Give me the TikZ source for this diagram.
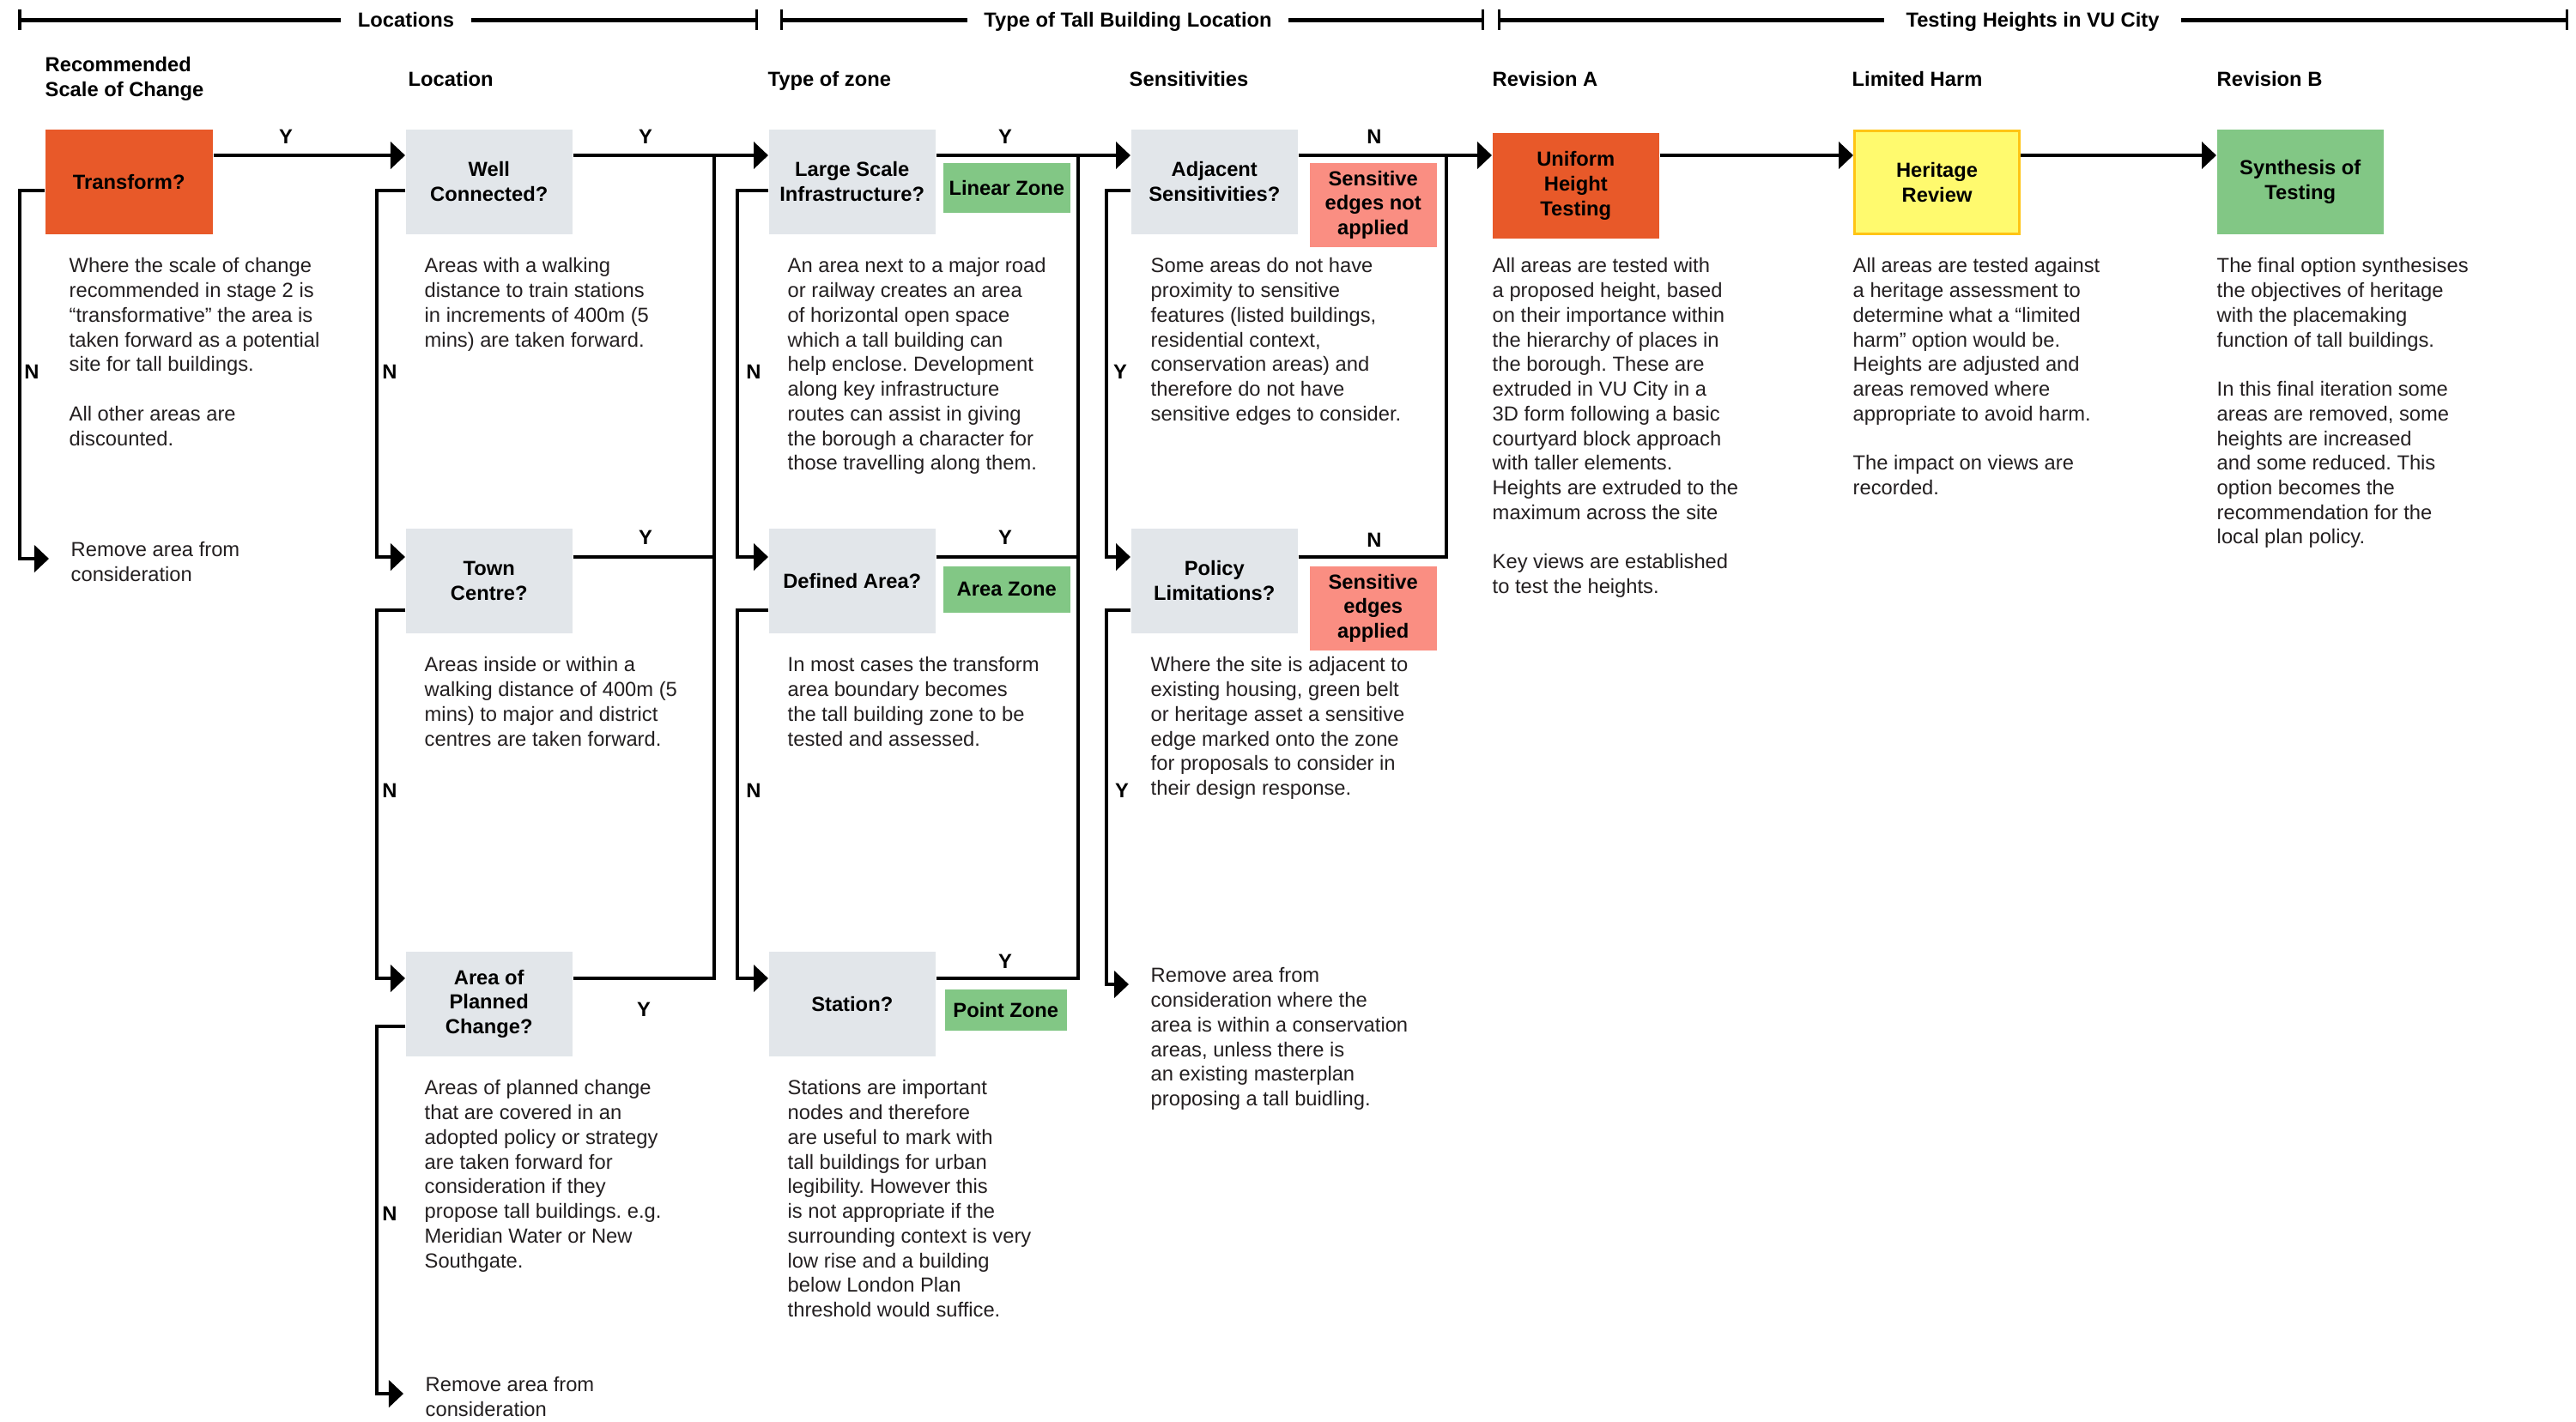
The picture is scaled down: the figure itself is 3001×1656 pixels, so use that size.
\documentclass[tikz,border=0pt]{standalone}
\usepackage{fontspec}
\setmainfont{Liberation Sans}
\usepackage{xcolor}
\usetikzlibrary{arrows.meta}
\definecolor{qgrey}{RGB}{226,230,234}
\definecolor{hotorange}{RGB}{232,89,41}
\definecolor{zonegreen}{RGB}{130,199,133}
\definecolor{edgepink}{RGB}{250,142,130}
\definecolor{heritageyellow}{RGB}{255,250,110}
\definecolor{heritageedge}{RGB}{255,196,20}
\definecolor{bodytext}{RGB}{35,31,32}
\newcommand{\txtfont}{\fontsize{6.75}{8.17}\selectfont}
\frenchspacing

\begin{document}
\begin{tikzpicture}[x=0.01cm, y=-0.01cm,
  font=\txtfont,
  qbox/.style={fill=qgrey, anchor=north west, inner sep=0, minimum width=1.94cm, minimum height=1.22cm, align=center, font=\txtfont\bfseries},
  tag/.style={fill=zonegreen, anchor=north west, inner sep=0, minimum width=1.48cm, align=center, font=\txtfont\bfseries},
  desc/.style={anchor=north west, align=left, inner sep=0, text=bodytext, execute at begin node=\strut},
  rm/.style={desc, inner xsep=0.25cm},
  head/.style={desc, text=black, font=\txtfont\bfseries},
  yn/.style={inner sep=0, font=\txtfont\bfseries},
  brk/.style={line width=0.05cm},
  tick/.style={line width=0.03cm},
  flow/.style={line width=0.04cm},
  arr/.style={flow, -{Triangle[length=0.17cm, width=0.31cm]}}
]
\useasboundingbox (0,0) rectangle (3001,1656);

% stage brackets
\coordinate (brkY) at (0,23);
\node[anchor=base, inner sep=0, inner xsep=0.19cm, font=\txtfont\bfseries] (lblLoc) at (473,31) {Locations};
\node[anchor=base, inner sep=0, inner xsep=0.19cm, font=\txtfont\bfseries] (lblType) at (1314,31) {Type of Tall Building Location};
\node[anchor=base, inner sep=0, inner xsep=0.25cm, font=\txtfont\bfseries] (lblTest) at (2368,31) {Testing Heights in VU City};
\draw[brk] (23,23) -- (lblLoc.west |- brkY);
\draw[brk] (lblLoc.east |- brkY) -- (881,23);
\draw[brk] (910,23) -- (lblType.west |- brkY);
\draw[brk] (lblType.east |- brkY) -- (1727,23);
\draw[brk] (1746,23) -- (lblTest.west |- brkY);
\draw[brk] (lblTest.east |- brkY) -- (2990,23);
\foreach \tx in {23,881,910,1727,1746,2990}
  \draw[tick] (\tx,11) -- (\tx,35);

% column headings
\node[head] (hScale) at (52,66) {Recommended\\Scale of Change};
\node[head] (hLoc) at (475,80) {Location};
\node[head] (hZone) at (894,80) {Type of zone};
\node[head] (hSens) at (1315,80) {Sensitivities};
\node[head] (hRevA) at (1738,80) {Revision A};
\node[head] (hHarm) at (2157,80) {Limited Harm};
\node[head] (hRevB) at (2582,80) {Revision B};

% rows and spines
\coordinate (rowA) at (0,181);
\coordinate (stubA) at (0,222);
\coordinate (rowB) at (0,649);
\coordinate (stubB) at (0,711);
\coordinate (rowC) at (0,1140);
\coordinate (stubC) at (0,1196);
\coordinate (spT) at (23,0);
\coordinate (spW) at (439,0);
\coordinate (spZ) at (859,0);
\coordinate (spS) at (1289,0);
\coordinate (jW) at (832,0);
\coordinate (jZ) at (1256,0);
\coordinate (jS) at (1685,0);

% question boxes
\node[qbox, fill=hotorange, minimum width=1.95cm] (transform) at (52,150) {Transform?};
\node[qbox] (well) at (472,150) {Well\\Connected?};
\node[qbox] (town) at (472,615) {Town\\Centre?};
\node[qbox] (apc) at (472,1108) {Area of\\Planned\\Change?};
\node[qbox] (large) at (895,150) {Large Scale\\Infrastructure?};
\node[qbox] (defined) at (895,615) {Defined Area?};
\node[qbox] (station) at (895,1108) {Station?};
\node[qbox] (adj) at (1317,150) {Adjacent\\Sensitivities?};
\node[qbox] (policy) at (1317,615) {Policy\\Limitations?};
\node[qbox, fill=hotorange, minimum height=1.23cm] (uniform) at (1738,154) {Uniform\\Height\\Testing};
\node[qbox, fill=heritageyellow, draw=heritageedge, line width=0.03cm, minimum width=1.92cm, minimum height=1.2cm] (heritage) at (2159,151) {Heritage\\Review};
\node[qbox, fill=zonegreen] (synth) at (2582,150) {Synthesis of\\Testing};

% outcome tags
\node[tag, minimum height=0.58cm] (linear) at (1098,189) {Linear Zone};
\node[tag, minimum height=0.54cm] (areaZ) at (1098,659) {Area Zone};
\node[tag, minimum width=1.42cm, minimum height=0.48cm] (pointZ) at (1100,1152) {Point Zone};
\node[tag, fill=edgepink, minimum height=0.98cm] (edgeNot) at (1525,189) {Sensitive\\edges not\\applied};
\node[tag, fill=edgepink, minimum height=0.98cm] (edgeYes) at (1525,659) {Sensitive\\edges\\applied};

% descriptions
\node[desc] (dTransform) at (80,300) {Where the scale of change\\recommended in stage 2 is\\“transformative” the area is\\taken forward as a potential\\site for tall buildings.\\[8.17pt]All other areas are\\discounted.};
\node[desc] (dWell) at (494,300) {Areas with a walking\\distance to train stations\\in increments of 400m (5\\mins) are taken forward.};
\node[desc] (dTown) at (494,765) {Areas inside or within a\\walking distance of 400m (5\\mins) to major and district\\centres are taken forward.};
\node[desc] (dApc) at (494,1258) {Areas of planned change\\that are covered in an\\adopted policy or strategy\\are taken forward for\\consideration if they\\propose tall buildings. e.g.\\Meridian Water or New\\Southgate.};
\node[desc] (dLarge) at (917,300) {An area next to a major road\\or railway creates an area\\of horizontal open space\\which a tall building can\\help enclose. Development\\along key infrastructure\\routes can assist in giving\\the borough a character for\\those travelling along them.};
\node[desc] (dDefined) at (917,765) {In most cases the transform\\area boundary becomes\\the tall building zone to be\\tested and assessed.};
\node[desc] (dStation) at (917,1258) {Stations are important\\nodes and therefore\\are useful to mark with\\tall buildings for urban\\legibility. However this\\is not appropriate if the\\surrounding context is very\\low rise and a building\\below London Plan\\threshold would suffice.};
\node[desc] (dAdj) at (1340,300) {Some areas do not have\\proximity to sensitive\\features (listed buildings,\\residential context,\\conservation areas) and\\therefore do not have\\sensitive edges to consider.};
\node[desc] (dPolicy) at (1340,765) {Where the site is adjacent to\\existing housing, green belt\\or heritage asset a sensitive\\edge marked onto the zone\\for proposals to consider in\\their design response.};
\node[desc] (dUniform) at (1738,300) {All areas are tested with\\a proposed height, based\\on their importance within\\the hierarchy of places in\\the borough. These are\\extruded in VU City in a\\3D form following a basic\\courtyard block approach\\with taller elements.\\Heights are extruded to the\\maximum across the site\\[8.17pt]Key views are established\\to test the heights.};
\node[desc] (dHeritage) at (2158,300) {All areas are tested against\\a heritage assessment to\\determine what a “limited\\harm” option would be.\\Heights are adjusted and\\areas removed where\\appropriate to avoid harm.\\[8.17pt]The impact on views are\\recorded.};
\node[desc] (dSynth) at (2582,300) {The final option synthesises\\the objectives of heritage\\with the placemaking\\function of tall buildings.\\[8.17pt]In this final iteration some\\areas are removed, some\\heights are increased\\and some reduced. This\\option becomes the\\recommendation for the\\local plan policy.};

% removal outcomes
\node[rm] (rmT) at (57,631) {Remove area from\\consideration};
\node[rm] (rmW) at (470,1604) {Remove area from\\consideration};
\node[rm] (rmS) at (1315,1127) {Remove area from\\consideration where the\\area is within a conservation\\areas, unless there is\\an existing masterplan\\proposing a tall buidling.};
\coordinate (rmTin) at ([yshift=-0.2cm]rmT.north west);
\coordinate (rmWin) at ([yshift=-0.2cm]rmW.north west);
\coordinate (rmSin) at ([yshift=-0.2cm]rmS.north west);

% main line
\draw[arr] (transform.east |- rowA) -- (well.west |- rowA);
\draw[arr] (well.east |- rowA) -- (large.west |- rowA);
\draw[arr] (large.east |- rowA) -- (adj.west |- rowA);
\draw[arr] (adj.east |- rowA) -- (uniform.west |- rowA);
\draw[arr] (uniform.east |- rowA) -- (heritage.west |- rowA);
\draw[arr] (heritage.east |- rowA) -- (synth.west |- rowA);

% yes / no returns to the main line
\draw[flow] (town.east |- rowB) -- (jW |- rowB);
\draw[flow] (apc.east |- rowC) -| (jW |- rowA);
\draw[flow] (defined.east |- rowB) -- (jZ |- rowB);
\draw[flow] (station.east |- rowC) -| (jZ |- rowA);
\draw[flow] (policy.east |- rowB) -| (jS |- rowA);

% branches down the left
\draw[arr] (transform.west |- stubA) -| (spT |- rmTin) -- (rmTin);
\draw[arr] (well.west |- stubA) -| (spW |- rowB) -- (town.west |- rowB);
\draw[arr] (town.west |- stubB) -| (spW |- rowC) -- (apc.west |- rowC);
\draw[arr] (apc.west |- stubC) -| (spW |- rmWin) -- (rmWin);
\draw[arr] (large.west |- stubA) -| (spZ |- rowB) -- (defined.west |- rowB);
\draw[arr] (defined.west |- stubB) -| (spZ |- rowC) -- (station.west |- rowC);
\draw[arr] (adj.west |- stubA) -| (spS |- rowB) -- (policy.west |- rowB);
\draw[arr] (policy.west |- stubB) -| (spS |- rmSin) -- (rmSin);

% Y / N labels
\node[yn] (yA1) at (333,159) {Y};
\node[yn] (yA2) at (752,159) {Y};
\node[yn] (yA3) at (1171,159) {Y};
\node[yn] (nA4) at (1601,159) {N};
\node[yn] (yB2) at (752,626) {Y};
\node[yn] (yB3) at (1171,626) {Y};
\node[yn] (nB4) at (1601,629) {N};
\node[yn] (yC2) at (750,1176) {Y};
\node[yn] (yC3) at (1171,1120) {Y};
\node[yn] (nT) at (37,433) {N};
\node[yn] (nW1) at (454,433) {N};
\node[yn] (nW2) at (454,921) {N};
\node[yn] (nW3) at (454,1414) {N};
\node[yn] (nZ1) at (878,433) {N};
\node[yn] (nZ2) at (878,921) {N};
\node[yn] (yS1) at (1305,433) {Y};
\node[yn] (yS2) at (1307,921) {Y};
\end{tikzpicture}
\end{document}
